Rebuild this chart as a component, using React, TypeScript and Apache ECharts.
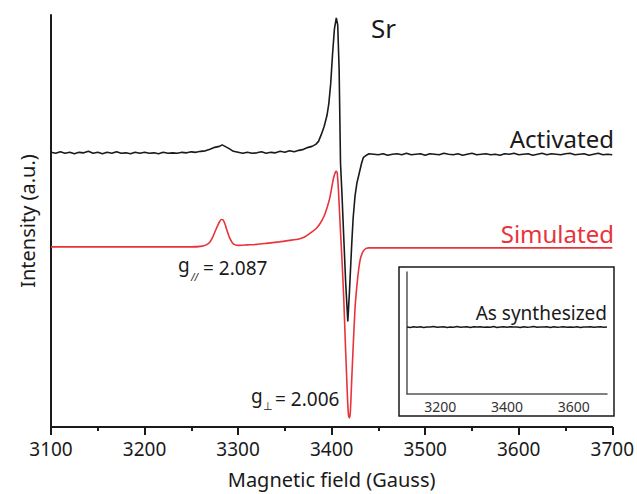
import React, { useEffect, useRef } from "react";
import * as echarts from "echarts";

// Magnetic field (Gauss) vs intensity (a.u., offset traces)
const activated: [number, number][] = [
  [3100, 276], [3105, 275], [3110, 276.5], [3115, 275], [3120, 276], [3125, 274.5], [3130, 276], [3135, 275.5],
  [3140, 277], [3145, 275], [3150, 276], [3155, 274.5], [3160, 276], [3165, 275], [3170, 276.5], [3175, 275],
  [3180, 275.5], [3185, 274.5], [3190, 276], [3195, 275], [3200, 276], [3205, 275], [3210, 275.5], [3215, 274.5],
  [3220, 276], [3225, 275], [3230, 275.5], [3235, 275], [3240, 276], [3245, 275.5], [3250, 276.5], [3255, 276],
  [3260, 277], [3265, 277.5], [3270, 279], [3275, 281], [3280, 282], [3283, 283.5], [3286, 282], [3290, 280],
  [3295, 277], [3300, 276], [3305, 275], [3310, 276], [3315, 275], [3320, 275.5], [3325, 276.5], [3330, 275],
  [3335, 276], [3340, 275.5], [3345, 277], [3350, 276], [3355, 277.5], [3360, 276.5], [3365, 278], [3370, 279],
  [3375, 281], [3379, 282], [3383, 284], [3386, 287], [3389, 294], [3392, 302], [3395, 313], [3397, 325],
  [3399, 345], [3401, 375], [3403, 400], [3405, 411], [3406.5, 404], [3408, 360], [3409.5, 265], [3411, 235],
  [3413, 190], [3415, 145], [3417.3, 106], [3419, 135], [3421.6, 186], [3423, 210], [3425, 232], [3427, 245],
  [3429, 253], [3432, 265], [3434, 271], [3437, 273], [3440, 274.5], [3445, 274], [3450, 273.5], [3455, 274.5],
  [3460, 273], [3465, 274], [3470, 274.5], [3475, 273.5], [3480, 275], [3485, 273.5], [3490, 274], [3495, 274.5],
  [3500, 273], [3505, 274.5], [3510, 274], [3515, 273.5], [3520, 275], [3525, 274], [3530, 273.5], [3535, 274.5],
  [3540, 273], [3545, 274], [3550, 275], [3555, 273.5], [3560, 274], [3565, 274.5], [3570, 273.5], [3575, 274],
  [3580, 273], [3585, 274.5], [3590, 274], [3595, 275], [3600, 273.5], [3605, 274], [3610, 274.5], [3615, 273],
  [3620, 274], [3625, 275], [3630, 273.5], [3635, 274.5], [3640, 274], [3645, 273.5], [3650, 274.5], [3655, 275],
  [3660, 273.5], [3665, 274], [3670, 274.5], [3675, 273], [3680, 274], [3685, 275], [3690, 273.5], [3695, 274],
  [3700, 273.5],
];

const simulated: [number, number][] = [
  [3100, 181], [3150, 181], [3200, 181], [3250, 181], [3260, 181.5], [3266, 183], [3270, 186], [3273, 191],
  [3277, 200], [3280, 206], [3282, 208.5], [3284, 208], [3286, 204], [3288, 198], [3291, 190], [3294, 185],
  [3297, 183], [3300, 182.5], [3310, 183], [3320, 183.5], [3330, 184.5], [3344, 186], [3355, 187.5], [3365, 189],
  [3372, 191.5], [3379, 196], [3384, 200], [3388, 205], [3392, 212], [3395, 220], [3398, 230], [3400, 240],
  [3402, 250], [3404, 256], [3405, 257], [3406, 255], [3407.4, 236], [3409, 205], [3411, 169], [3413, 128],
  [3414.6, 86], [3416, 52], [3417, 28], [3418, 12], [3419, 9], [3420, 15], [3421.6, 50], [3423, 80],
  [3425, 119], [3427, 142], [3429, 159], [3431, 170], [3434, 177], [3437, 179.5], [3440, 180], [3500, 180],
  [3600, 180], [3700, 180],
];

const asSynthesized: [number, number][] = [
  [3100, 67], [3110, 66.5], [3120, 67.3], [3130, 66.8], [3140, 67.2], [3150, 66.6], [3160, 67.1], [3170, 66.9],
  [3180, 67.4], [3190, 66.7], [3200, 67], [3210, 67.3], [3220, 66.6], [3230, 67.1], [3240, 66.8], [3250, 67.4],
  [3260, 66.7], [3270, 67], [3280, 67.3], [3290, 66.6], [3300, 67.2], [3310, 66.9], [3320, 67.3], [3330, 66.7],
  [3340, 67.1], [3350, 66.8], [3360, 67.4], [3370, 66.6], [3380, 67], [3390, 67.2], [3400, 66.7], [3410, 67.3],
  [3420, 66.9], [3430, 67.1], [3440, 66.6], [3450, 67.3], [3460, 66.8], [3470, 67], [3480, 67.4], [3490, 66.7],
  [3500, 67.1], [3510, 66.9], [3520, 67.2], [3530, 66.6], [3540, 67.3], [3550, 66.8], [3560, 67], [3570, 67.3],
  [3580, 66.7], [3590, 67.1], [3600, 66.8], [3610, 67.2], [3620, 66.6], [3630, 67.1], [3640, 66.9], [3650, 67.3],
  [3660, 66.7], [3670, 67], [3680, 67.2], [3690, 66.8], [3700, 67],
];

const FONT = "Noto Sans";
const BLACK = "#1a1a1a";
const RED = "#e8333b";

export default function App() {
  const ref = useRef<HTMLDivElement>(null);
  useEffect(() => {
    if (!ref.current) return;
    const chart = echarts.init(ref.current, undefined, { renderer: "svg" });
    const txt = (text: string, x: number, y: number, size: number, align: string, color = BLACK, extra: any = {}) => ({
      type: "text",
      x,
      y,
      style: { text, fontSize: size, fontFamily: FONT, fill: color, align, verticalAlign: "middle", ...extra },
      z: 10,
    });
    chart.setOption({
      animation: false,
      backgroundColor: "#ffffff",
      textStyle: { fontFamily: FONT },
      grid: [
        { left: 51, right: 23, top: 15, bottom: 65 },
        { left: 407, right: 30, top: 272, bottom: 100 },
      ],
      xAxis: [
        {
          type: "value",
          gridIndex: 0,
          min: 3100,
          max: 3700,
          interval: 100,
          axisLine: { show: true, lineStyle: { color: BLACK, width: 2 } },
          axisTick: { show: true, length: 8, lineStyle: { color: BLACK, width: 2 } },
          minorTick: { show: true, splitNumber: 2, length: 4, lineStyle: { color: BLACK, width: 2 } },
          axisLabel: { fontSize: 19, color: BLACK, margin: 12, fontFamily: FONT, formatter: (v: number) => String(v) },
          splitLine: { show: false },
          name: "Magnetic field (Gauss)",
          nameLocation: "middle",
          nameGap: 42,
          nameTextStyle: { fontSize: 20, color: BLACK, fontFamily: FONT },
        },
        {
          type: "value",
          gridIndex: 1,
          min: 3100,
          max: 3700,
          interval: 100,
          axisLine: { show: true, lineStyle: { color: "#555", width: 1.5 } },
          axisTick: { show: false },
          axisLabel: {
            fontSize: 14,
            color: "#333",
            margin: 5,
            fontFamily: FONT,
            formatter: (v: number) => (v % 200 === 0 ? String(v) : ""),
          },
          splitLine: { show: false },
        },
      ],
      yAxis: [
        {
          type: "value",
          gridIndex: 0,
          min: 0,
          max: 414,
          axisLine: { show: true, lineStyle: { color: BLACK, width: 2 } },
          axisTick: { show: false },
          axisLabel: { show: false },
          splitLine: { show: false },
          name: "Intensity (a.u.)",
          nameLocation: "middle",
          nameGap: 14,
          nameTextStyle: { fontSize: 20, color: BLACK, fontFamily: FONT },
        },
        {
          type: "value",
          gridIndex: 1,
          min: 0,
          max: 122,
          axisLine: { show: true, lineStyle: { color: "#555", width: 1.5 } },
          axisTick: { show: false },
          axisLabel: { show: false },
          splitLine: { show: false },
        },
      ],
      series: [
        {
          type: "line",
          name: "Simulated",
          xAxisIndex: 0,
          yAxisIndex: 0,
          data: simulated,
          showSymbol: false,
          smooth: 0.2,
          lineStyle: { color: RED, width: 1.6 },
          z: 2,
        },
        {
          type: "line",
          name: "Activated",
          xAxisIndex: 0,
          yAxisIndex: 0,
          data: activated,
          showSymbol: false,
          lineStyle: { color: BLACK, width: 1.6 },
          z: 3,
        },
        {
          type: "line",
          name: "As synthesized",
          xAxisIndex: 1,
          yAxisIndex: 1,
          data: asSynthesized,
          showSymbol: false,
          lineStyle: { color: BLACK, width: 1.5 },
        },
      ],
      graphic: [
        {
          type: "rect",
          shape: { x: 399, y: 267, width: 215, height: 149 },
          style: { fill: "none", stroke: BLACK, lineWidth: 1.5 },
          z: 5,
        },
        txt("Sr", 371, 28, 26, "left"),
        txt("Activated", 614, 138, 24, "right"),
        txt("Simulated", 614, 233, 24, "right", RED),
        txt("As synthesized", 607, 313, 19, "right"),
        txt("g", 178, 265, 19, "left"),
        txt("//", 191, 277, 10, "left", BLACK, { fontStyle: "italic" }),
        txt("= 2.087", 203, 268, 19, "left"),
        txt("g", 251, 396, 19, "left"),
        txt("\u22a5", 263, 405, 11, "left"),
        txt("= 2.006", 275, 399, 19, "left"),
      ],
    });
    return () => chart.dispose();
  }, []);
  return <div ref={ref} style={{ position: "fixed", left: 0, top: 0, width: 637, height: 494 }} />;
}
